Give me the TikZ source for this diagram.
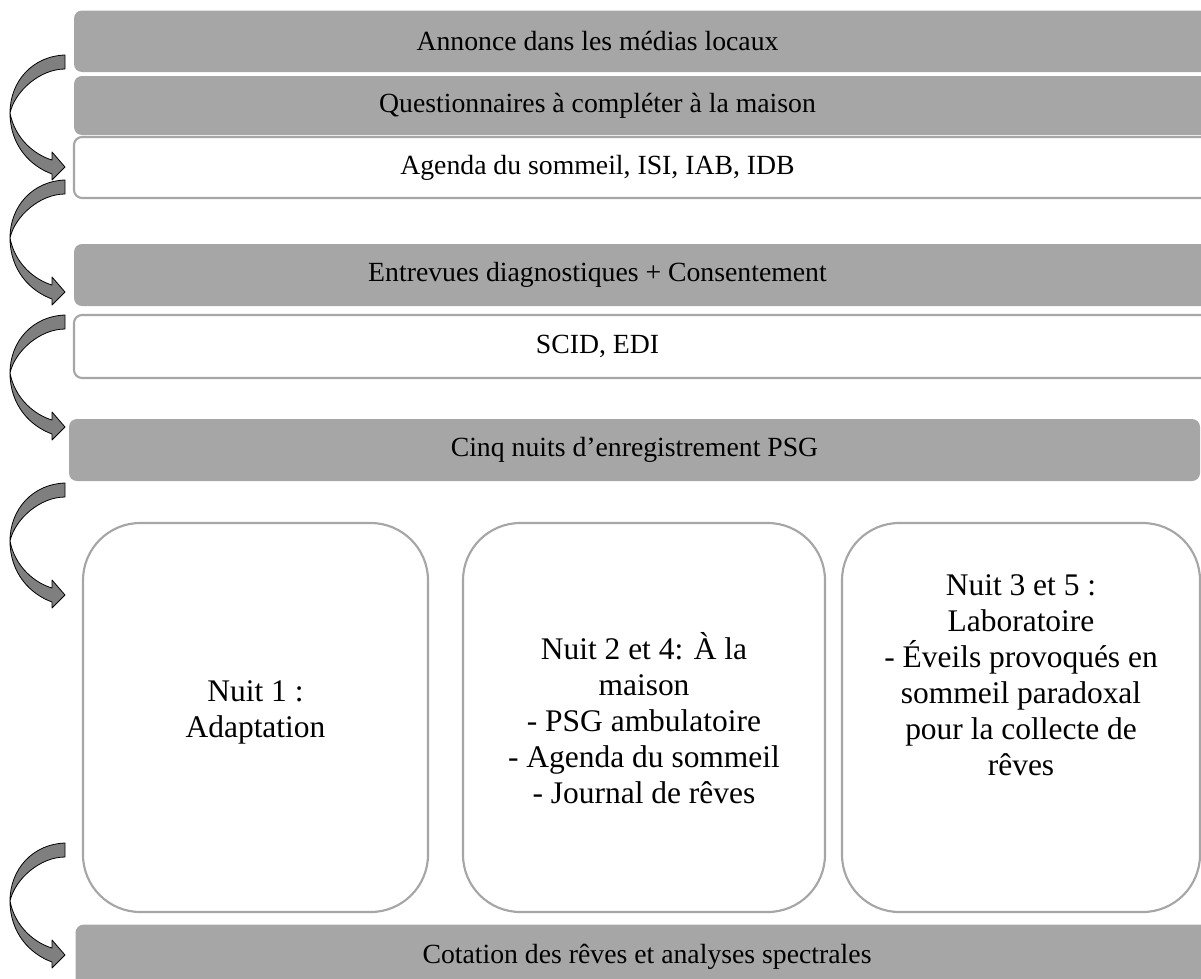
\documentclass[tikz,border=0pt]{standalone}
\usepackage{fontspec}
\setmainfont{Liberation Serif}
\newcommand{\bigfs}{\fontsize{20.8pt}{27pt}\selectfont}
\newcommand{\boxfs}{\fontsize{23.6pt}{27pt}\selectfont}
\definecolor{barg}{HTML}{A6A6A6}
\definecolor{arrg}{HTML}{7F7F7F}
\begin{document}
\begin{tikzpicture}[x=0.75pt,y=-0.75pt,
  graybar/.style={fill=barg, draw=none, rounded corners=6pt, inner sep=0pt, minimum width=919.5pt},
  whitebar/.style={fill=white, draw=barg, line width=1.6pt, rounded corners=6pt, inner sep=0pt, minimum width=919.5pt},
  bartext/.style={font=\bigfs, inner sep=0pt},
  nightbox/.style={fill=white, draw=barg, line width=1.6pt, rounded corners=43pt, inner sep=0pt, minimum height=291.75pt},
  boxtext/.style={align=center, font=\boxfs, inner sep=0pt},
  arrowpart/.style={fill=arrg, draw=black, line width=0.6pt, line join=round},
  curvearrow/.pic={
    \path[arrowpart] (0,0) .. controls (-32,1) and (-55,26) .. (-55,58)
      .. controls (-50,36) and (-25,14) .. (0,14) -- cycle;
    \path[arrowpart] (-55,58) .. controls (-55,90) and (-35,111) .. (-13,119)
      -- (-13,125) -- (0,112) -- (-13,97) -- (-13,105)
      .. controls (-30,100) and (-50,84) .. (-55,58) -- cycle;
  }
]
\useasboundingbox (0,0) rectangle (1201,978);
\clip (0,0) rectangle (1201,978);

\node[graybar, minimum height=46.125pt] (b1) at (687,41.25) {};
\node[bartext] (b1t) at (597.5,41.25) {Annonce dans les médias locaux};
\node[graybar, minimum height=44.25pt] (b2) at (687,105.5) {};
\node[bartext] (b2t) at (597.5,105.5) {Questionnaires à compléter à la maison};
\node[whitebar, minimum height=45.75pt] (b3) at (687,167.5) {};
\node[bartext] (b3t) at (597.5,167.5) {Agenda du sommeil, ISI, IAB, IDB};
\node[graybar, minimum height=46.5pt] (b4) at (687,275) {};
\node[bartext] (b4t) at (597.5,275) {Entrevues diagnostiques + Consentement};
\node[whitebar, minimum height=47.25pt] (b5) at (687,346.5) {};
\node[bartext] (b5t) at (597.5,346.5) {SCID, EDI};
\node[graybar, minimum height=46.5pt, minimum width=848.25pt] (b6) at (634.5,450) {};
\node[bartext] (b6t) at (634.5,450) {Cinq nuits d’enregistrement PSG};

\node[nightbox, minimum width=258.75pt] (n1) at (255.5,717.5) {};
\node[nightbox, minimum width=271.5pt] (n2) at (644,717.5) {};
\node[nightbox, minimum width=268.5pt] (n3) at (1021,717.5) {};
\node[boxtext] (t1) at (255.5,712) {Nuit 1 :\\Adaptation};
\node[boxtext] (t2) at (644,718) {Nuit 2 et 4: À la\\maison\\- PSG ambulatoire\\- Agenda du sommeil\\- Journal de rêves};
\node[boxtext] (t3) at (1021,675) {Nuit 3 et 5 :\\Laboratoire\\- Éveils provoqués en\\sommeil paradoxal\\pour la collecte de\\rêves};

\node[graybar, minimum height=56pt] (b7) at (688.5,962) {};
\node[bartext] (b7t) at (647,957) {Cotation des rêves et analyses spectrales};

\pic at (65,55) {curvearrow};
\pic at (65,180) {curvearrow};
\pic at (65,315) {curvearrow};
\pic at (65,483) {curvearrow};
\pic at (65,843) {curvearrow};
\end{tikzpicture}
\end{document}
